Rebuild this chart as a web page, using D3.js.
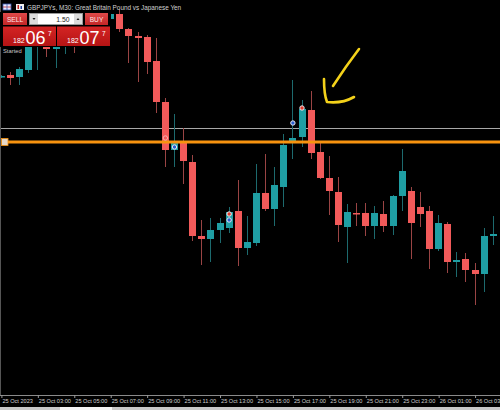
<!DOCTYPE html>
<html><head><meta charset="utf-8">
<script src="https://cdn.jsdelivr.net/npm/d3@7/dist/d3.min.js"></script>
<style>html,body{margin:0;padding:0;background:#000;}svg{display:block;}</style>
</head><body>
<svg id="c" width="500" height="410"></svg>
<script>
// ---- DATA (GBPJPY, M30) ----
const times = [
 "25 01:00","25 01:30","25 02:00","25 02:30","25 03:00","25 03:30","25 04:00","25 04:30",
 "25 05:00","25 05:30","25 06:00","25 06:30","25 07:00","25 07:30","25 08:00","25 08:30",
 "25 09:00","25 09:30","25 10:00","25 10:30","25 11:00","25 11:30","25 12:00","25 12:30",
 "25 13:00","25 13:30","25 14:00","25 14:30","25 15:00","25 15:30","25 16:00","25 16:30",
 "25 17:00","25 17:30","25 18:00","25 18:30","25 19:00","25 19:30","25 20:00","25 20:30",
 "25 21:00","25 21:30","25 22:00","25 22:30","25 23:00","25 23:30","26 00:00","26 00:30",
 "26 01:00","26 01:30","26 02:00","26 02:30","26 03:00","26 03:30","26 04:00"];
const open  = [182.272,182.280,182.272,182.300,182.420,182.428,182.384,182.420,182.440,182.412,182.420,182.428,182.504,182.524,182.464,182.436,
               182.432,182.336,182.172,181.980,182.012,181.932,181.636,181.624,181.660,181.668,181.736,181.588,181.608,181.808,181.744,181.832,
               182.008,182.032,182.140,181.972,181.868,181.812,181.672,181.728,181.728,181.676,181.724,181.676,181.796,181.816,181.752,181.736,
               181.584,181.684,181.532,181.544,181.500,181.484,181.636];
const high  = [182.280,182.292,182.312,182.428,182.468,182.460,182.460,182.468,182.460,182.440,182.448,182.508,182.528,182.544,182.468,182.452,
               182.440,182.428,182.188,182.124,182.068,181.960,181.700,181.708,181.708,181.752,181.860,181.716,181.924,181.964,181.912,182.044,
               182.260,182.180,182.216,182.012,181.956,181.872,181.764,181.768,181.768,181.756,181.776,181.800,181.984,181.832,181.812,181.756,
               181.720,181.692,181.572,181.568,181.528,181.668,181.716];
const low   = [182.268,182.240,182.240,182.288,182.300,182.352,182.308,182.364,182.368,182.404,182.404,182.412,182.500,182.452,182.328,182.252,
               182.284,182.128,181.912,181.912,181.844,181.616,181.520,181.532,181.608,181.648,181.516,181.560,181.596,181.736,181.676,181.752,
               181.944,181.992,181.944,181.864,181.720,181.612,181.528,181.676,181.636,181.624,181.652,181.640,181.736,181.544,181.672,181.504,
               181.576,181.488,181.472,181.452,181.360,181.412,181.600];
const close = [182.276,182.268,182.304,182.412,182.452,182.384,182.436,182.444,182.412,182.420,182.428,182.500,182.524,182.464,182.436,182.428,
               182.332,182.172,181.980,182.016,181.936,181.636,181.624,181.660,181.688,181.732,181.588,181.612,181.808,181.744,181.840,182.000,
               182.028,182.144,181.968,181.868,181.816,181.680,181.732,181.724,181.676,181.728,181.676,181.796,181.896,181.688,181.724,181.584,
               181.688,181.532,181.540,181.500,181.484,181.636,181.644];
const tickTimes  = ["25 01:00","25 03:00","25 05:00","25 07:00","25 09:00","25 11:00","25 13:00","25 15:00","25 17:00","25 19:00","25 21:00","25 23:00","26 01:00","26 03:00"];
const tickLabels = ["25 Oct 2023","25 Oct 03:00","25 Oct 05:00","25 Oct 07:00","25 Oct 09:00","25 Oct 11:00","25 Oct 13:00","25 Oct 15:00","25 Oct 17:00","25 Oct 19:00","25 Oct 21:00","25 Oct 23:00","26 Oct 01:00","26 Oct 03:00"];
const bidPrice = 182.068;
const levelPrice = 182.012;
const markTimes  = ["25 10:00","25 10:30","25 13:30","25 13:30","25 17:00","25 17:30"];
const markPrices = [182.028,181.992,181.724,181.700,182.088,182.148];
const markKinds  = ["ring","buy","sell","buy","buy","sell"];

// ---- CHART ----
const svg = d3.select("#c");
const W = 500, H = 410, axisY = 395;
svg.append("rect").attr("width",W).attr("height",H).attr("fill","#000");

const x = d3.scalePoint().domain(times).range([0.9, 492.8]);
const y = d3.scaleLinear().domain([181.0, 182.58]).range([axisY, 0]);

const bull = "#1f9ea3", bear = "#f25a5a";
const bullWick = "#1d6a6e", bearWick = "#9a4444";

// horizontal lines
svg.append("line").attr("x1",0).attr("x2",W).attr("y1",Math.round(y(bidPrice))+0.5).attr("y2",Math.round(y(bidPrice))+0.5)
  .attr("stroke","#a8a8a8").attr("stroke-width",1);

const idx = d3.range(times.length);
const g = svg.append("g");
g.selectAll("line.w").data(idx).join("line")
  .attr("x1", i => Math.round(x(times[i]))+0.5).attr("x2", i => Math.round(x(times[i]))+0.5)
  .attr("y1", i => y(high[i])).attr("y2", i => y(low[i]))
  .attr("stroke", i => close[i] >= open[i] ? bullWick : bearWick).attr("stroke-width",1);
g.selectAll("rect.b").data(idx).join("rect")
  .attr("x", i => Math.round(x(times[i])) - 3)
  .attr("width", 7)
  .attr("y", i => y(Math.max(open[i], close[i])))
  .attr("height", i => Math.max(1.5, Math.abs(y(open[i]) - y(close[i]))))
  .attr("fill", i => close[i] >= open[i] ? bull : bear);

// orange level line
const ly = y(levelPrice);
svg.append("line").attr("x1",8).attr("x2",W).attr("y1",ly).attr("y2",ly).attr("stroke","#f7930f").attr("stroke-width",2.8);
svg.append("rect").attr("x",1.5).attr("y",ly-3.5).attr("width",6.5).attr("height",7)
  .attr("fill","#e6d8c8").attr("stroke","#f7930f").attr("stroke-width",0.8);

// trade markers
svg.selectAll("circle.m").data(d3.range(markTimes.length)).join("circle")
  .attr("cx", i => x(markTimes[i]) + 0.5).attr("cy", i => y(markPrices[i]))
  .attr("r", 2.2)
  .attr("fill", i => markKinds[i] === "buy" ? "#2a5fd0" : markKinds[i] === "sell" ? "#e03a2a" : "none")
  .attr("stroke", i => markKinds[i] === "ring" ? "#f4b0b0" : "#e8e8f0").attr("stroke-width", 1);

// axis
svg.append("line").attr("x1",0).attr("x2",W).attr("y1",axisY+0.5).attr("y2",axisY+0.5).attr("stroke","#8a8a8a");
const ax = svg.append("g").attr("transform",`translate(0,${axisY})`)
  .call(d3.axisBottom(x).tickValues(tickTimes).tickFormat((d,i)=>tickLabels[i]).tickSize(3).tickSizeOuter(0));
ax.select(".domain").remove();
ax.selectAll(".tick line").attr("stroke","#9a9a9a").attr("transform","translate(0.5,0)");
ax.selectAll(".tick text").attr("fill","#cfcfcf").attr("text-anchor","start").attr("x",1).attr("y",4)
  .attr("font-family","Liberation Sans, Arial, sans-serif").attr("font-size","5.6px").attr("dy","0.71em");

// bottom tab strip
svg.append("rect").attr("x",0).attr("y",407).attr("width",W).attr("height",3).attr("fill","#c8c8c8");
svg.append("rect").attr("x",60).attr("y",407).attr("width",52).attr("height",3).attr("fill","#f4f4f4");
// borders
svg.append("line").attr("x1",0.5).attr("x2",0.5).attr("y1",0).attr("y2",axisY).attr("stroke","#555");

// yellow hand-drawn annotation
const ann = svg.append("g").attr("fill","none").attr("stroke","#f3d11a").attr("stroke-width",2.6).attr("stroke-linecap","round").attr("stroke-linejoin","round");
ann.append("path").attr("d","M359,49 Q346,66 333,86");
ann.append("path").attr("d","M324,79 C324,90 325,97 327,102 C336,103 347,101 354,97");

// ---- trading panel ----
const font = "Liberation Sans, Arial, sans-serif";
const defs = svg.append("defs");
const gr1 = defs.append("linearGradient").attr("id","gb").attr("x1",0).attr("x2",0).attr("y1",0).attr("y2",1);
gr1.append("stop").attr("offset","0").attr("stop-color","#e04a4a");
gr1.append("stop").attr("offset","1").attr("stop-color","#c42626");
const gr2 = defs.append("linearGradient").attr("id","gp").attr("x1",0).attr("x2",0).attr("y1",0).attr("y2",1);
gr2.append("stop").attr("offset","0").attr("stop-color","#d42424");
gr2.append("stop").attr("offset","1").attr("stop-color","#b51414");

svg.append("rect").attr("x",0).attr("y",12).attr("width",111).attr("height",35).attr("fill","#000");
// icons
const ic = svg.append("g");
ic.append("rect").attr("x",3).attr("y",4).attr("width",8).attr("height",6).attr("fill","#e8e8ff").attr("stroke","#3a5ab0").attr("stroke-width",0.8);
ic.append("line").attr("x1",3).attr("x2",11).attr("y1",7).attr("y2",7).attr("stroke","#c03030").attr("stroke-width",0.8);
ic.append("line").attr("x1",7).attr("x2",7).attr("y1",4).attr("y2",10).attr("stroke","#3a5ab0").attr("stroke-width",0.8);
ic.append("rect").attr("x",16).attr("y",4).attr("width",8).attr("height",6).attr("fill","#f0f0f0");
ic.append("rect").attr("x",17.5).attr("y",5).attr("width",1.5).attr("height",4).attr("fill","#c02020");
ic.append("rect").attr("x",20.5).attr("y",6).attr("width",1.5).attr("height",3).attr("fill","#2040a0");
svg.append("text").attr("x",27).attr("y",9.5).attr("fill","#d0d0d0").attr("font-family",font).attr("font-size","6.4px")
  .text("GBPJPYs, M30:  Great Britain Pound vs Japanese Yen");

// buttons
svg.append("rect").attr("x",3).attr("y",13).attr("width",24).attr("height",12).attr("fill","url(#gb)");
svg.append("text").attr("x",15).attr("y",21.8).attr("text-anchor","middle").attr("fill","#fde6e6").attr("font-family",font).attr("font-size","6.6px").text("SELL");
svg.append("rect").attr("x",85).attr("y",13).attr("width",23).attr("height",12).attr("fill","url(#gb)");
svg.append("text").attr("x",96.5).attr("y",21.8).attr("text-anchor","middle").attr("fill","#fde6e6").attr("font-family",font).attr("font-size","6.6px").text("BUY");
svg.append("rect").attr("x",29.5).attr("y",13.5).attr("width",53).attr("height",11).attr("fill","#fff").attr("stroke","#9a9a9a").attr("stroke-width",1);
svg.append("rect").attr("x",30).attr("y",14).attr("width",8).attr("height",10).attr("fill","#dcdcdc");
svg.append("rect").attr("x",74).attr("y",14).attr("width",8).attr("height",10).attr("fill","#dcdcdc");
svg.append("path").attr("d","M32.5,18 L35.5,18 L34,20 Z").attr("fill","#222");
svg.append("path").attr("d","M76.5,20 L79.5,20 L78,18 Z").attr("fill","#222");
svg.append("text").attr("x",69.5).attr("y",21.8).attr("text-anchor","end").attr("fill","#222").attr("font-family",font).attr("font-size","6.8px").text("1.50");

// price boxes
function priceBox(x0, big, small, sup) {
  svg.append("rect").attr("x",x0).attr("y",26.5).attr("width",53).attr("height",19.5).attr("fill","url(#gp)");
  svg.append("text").attr("x",x0+10).attr("y",43).attr("fill","#fff").attr("font-family",font).attr("font-size","7px").text(small);
  svg.append("text").attr("x",x0+22.5).attr("y",43.5).attr("fill","#fff").attr("font-family",font).attr("font-size","18px").text(big);
  svg.append("text").attr("x",x0+45).attr("y",35.5).attr("fill","#fff").attr("font-family",font).attr("font-size","6.5px").text(sup);
}
priceBox(3, "06", "182", "7");
priceBox(57, "07", "182", "7");
svg.append("text").attr("x",3).attr("y",53).attr("fill","#c8c8c8").attr("font-family",font).attr("font-size","5.8px").text("Started");
</script>
</body></html>
